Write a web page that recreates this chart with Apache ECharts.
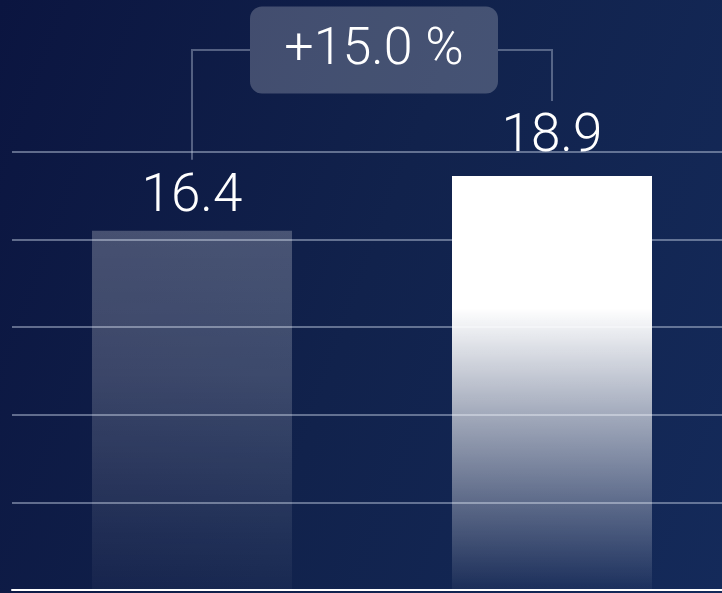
<!DOCTYPE html>
<html>
<head>
<meta charset="utf-8">
<script src="https://cdn.jsdelivr.net/npm/echarts@6/dist/echarts.min.js"></script>
<style>
  html, body { margin: 0; padding: 0; }
  #chart { width: 722px; height: 593px; background: linear-gradient(110deg, #0b1540 0%, #11224c 50%, #142a5a 100%); }
</style>
</head>
<body>
<div id="chart"></div>
<script>
const categories = ['Before', 'After'];
const values = [16.4, 18.9];
const changeLabel = '+15.0 %';
const yTicks = { min: 0, max: 20, interval: 4 };

const chart = echarts.init(document.getElementById('chart'), null, { renderer: 'canvas' });

function grad(stops) {
  return new echarts.graphic.LinearGradient(0, 0, 0, 1, stops);
}

const barStyles = [
  grad([
    { offset: 0, color: 'rgba(255,255,255,0.24)' },
    { offset: 0.4, color: 'rgba(255,255,255,0.19)' },
    { offset: 1, color: 'rgba(255,255,255,0.03)' }
  ]),
  grad([
    { offset: 0, color: 'rgba(255,255,255,1)' },
    { offset: 0.32, color: 'rgba(255,255,255,1)' },
    { offset: 0.57, color: 'rgba(255,255,255,0.62)' },
    { offset: 0.8, color: 'rgba(255,255,255,0.3)' },
    { offset: 1, color: 'rgba(255,255,255,0.04)' }
  ])
];
const labelDistances = [7, 12];

const option = {
  animation: false,
  grid: { left: 12, width: 720, top: 152, bottom: 3, outerBoundsMode: 'none', containLabel: false },
  xAxis: {
    type: 'category',
    data: categories,
    axisLabel: { show: false },
    axisTick: { show: false },
    axisLine: { show: true, lineStyle: { color: '#ffffff', width: 2 } },
    splitLine: { show: false }
  },
  yAxis: {
    type: 'value',
    min: yTicks.min,
    max: yTicks.max,
    interval: yTicks.interval,
    axisLabel: { show: false },
    axisLine: { show: false },
    axisTick: { show: false },
    splitLine: { show: true, lineStyle: { color: 'rgba(200,210,230,0.45)', width: 2 } }
  },
  series: [
    {
      type: 'bar',
      barWidth: 200,
      data: values.map((v, i) => ({
        value: v,
        itemStyle: { color: barStyles[i] },
        label: {
          show: true,
          position: 'top',
          distance: labelDistances[i],
          color: '#ffffff',
          fontFamily: 'Roboto',
          fontWeight: 300,
          fontSize: 53,
          formatter: (p) => p.value.toFixed(1)
        }
      }))
    },
    {
      type: 'custom',
      coordinateSystem: 'cartesian2d',
      silent: true,
      clip: false,
      z: 10,
      data: [[0, 0]],
      renderItem: function (params, api) {
        const p1 = api.coord([0, values[0]]);
        const p2 = api.coord([1, values[1]]);
        const topY = Math.min(p1[1], p2[1]) - 126;
        const midX = (p1[0] + p2[0]) / 2 + 2;
        const boxW = 248, boxH = 87;
        const lineStyle = { stroke: 'rgba(190,200,220,0.4)', lineWidth: 2, fill: null };
        return {
          type: 'group',
          children: [
            {
              type: 'polyline',
              shape: { points: [[p1[0], p1[1] - 71], [p1[0], topY], [midX - boxW / 2, topY]] },
              style: lineStyle
            },
            {
              type: 'polyline',
              shape: { points: [[midX + boxW / 2, topY], [p2[0], topY], [p2[0], p2[1] - 75]] },
              style: lineStyle
            },
            {
              type: 'rect',
              shape: { x: midX - boxW / 2, y: topY - boxH / 2, width: boxW, height: boxH, r: 12 },
              style: { fill: 'rgba(255,255,255,0.22)' }
            },
            {
              type: 'text',
              style: {
                text: changeLabel,
                x: midX,
                y: topY + 1,
                align: 'center',
                verticalAlign: 'middle',
                font: '300 52px Roboto',
                fill: '#ffffff'
              }
            }
          ]
        };
      }
    }
  ]
};
chart.setOption(option);
</script>
</body>
</html>
